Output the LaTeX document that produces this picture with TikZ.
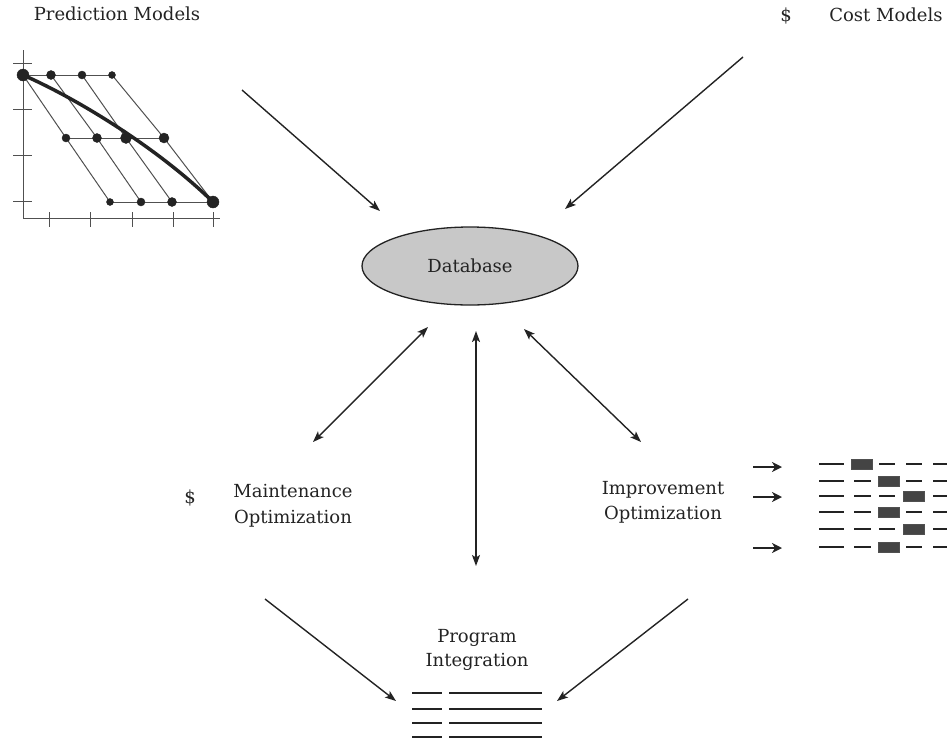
\documentclass[tikz,border=0pt]{standalone}
\usepackage{fontspec}
\setmainfont{DejaVu Serif}
\usetikzlibrary{shapes.geometric,arrows.meta}
\definecolor{dbfill}{RGB}{200,200,200}
\definecolor{ink}{RGB}{35,35,35}
\definecolor{gridc}{RGB}{80,80,80}
\begin{document}
\begin{tikzpicture}[x=1pt,y=-1pt,
  lbl/.style={font=\fontsize{18}{25}\selectfont, inner sep=0pt, anchor=base, text=ink},
  conn/.style={draw=ink, line width=1.4pt, -{Stealth[length=11pt,width=8pt,inset=2.5pt]}},
  dconn/.style={draw=ink, line width=1.4pt, {Stealth[length=11pt,width=8pt,inset=2.5pt]}-{Stealth[length=11pt,width=8pt,inset=2.5pt]}},
  gline/.style={draw=gridc, line width=1pt},
  dotc/.style={fill=ink, draw=ink},
  bar/.style={draw=ink, line width=2.2pt},
  blk/.style={fill=ink!85, draw=gridc, line width=0.6pt},
  pline/.style={draw=ink, line width=2pt}]
\useasboundingbox (0,0) rectangle (947,742);

% titles
\node[lbl] (pm) at (117,20) {Prediction Models};
\node[lbl] (cd) at (786,21) {\$};
\node[lbl] (cm) at (886,21) {Cost Models};

% chart axes
\draw[gline] (23,50) -- (23,218) -- (220,218);
\foreach \yy in {63,109,155,201} \draw[gline] (13,\yy) -- (32,\yy);
\foreach \xx in {49,90,132,173,213} \draw[gline] (\xx,212) -- (\xx,227);
% chart grid
\draw[gline] (23,75) -- (112,75);
\draw[gline] (66,138) -- (164,138);
\draw[gline] (110,202) -- (213,202);
\draw[gline] (23,75) -- (66,138) -- (110,202);
\draw[gline] (51,75) -- (97,138) -- (141,202);
\draw[gline] (82,75) -- (126,138) -- (172,202);
\draw[gline] (112,75) -- (164,138) -- (213,202);
\draw[draw=ink, line width=3.5pt] (23,75) .. controls (80,100) and (160,150) .. (213,202);
\foreach \px/\py/\r in {23/75/6, 51/75/4.5, 82/75/4, 112/75/3.5,
  66/138/4, 97/138/4.5, 126/138/5.5, 164/138/5,
  110/202/3.5, 141/202/4, 172/202/4.5, 213/202/6}
  \fill[dotc] (\px,\py) circle (\r);

% database
\node[ellipse, draw=ink, line width=1.3pt, fill=dbfill, minimum width=216pt, minimum height=78pt, inner sep=0pt, font=\fontsize{18}{25}\selectfont, text=ink] (db) at (470,266) {Database};

% labels
\node[lbl] (ds) at (190,503) {\$};
\node[lbl] (mo1) at (293,497) {Maintenance};
\node[lbl] (mo2) at (293,523) {Optimization};
\node[lbl] (io1) at (663,494) {Improvement};
\node[lbl] (io2) at (663,519) {Optimization};
\node[lbl] (pi1) at (477,642) {Program};
\node[lbl] (pi2) at (477,666) {Integration};

% connector coordinates
\coordinate (a1) at (242,90);  \coordinate (a2) at (380,211);
\coordinate (b1) at (743,57);  \coordinate (b2) at (565,209);
\coordinate (c1) at (428,327); \coordinate (c2) at (313,442);
\coordinate (d1) at (476,331); \coordinate (d2) at (476,566);
\coordinate (e1) at (524,329); \coordinate (e2) at (641,442);
\coordinate (f1) at (265,599); \coordinate (f2) at (396,701);
\coordinate (g1) at (688,599); \coordinate (g2) at (557,701);
\draw[conn] (a1) -- (a2);
\draw[conn] (b1) -- (b2);
\draw[dconn] (c1) -- (c2);
\draw[dconn] (d1) -- (d2);
\draw[dconn] (e1) -- (e2);
\draw[conn] (f1) -- (f2);
\draw[conn] (g1) -- (g2);

% small arrows
\foreach \yy/\nm in {467/r1, 497/r2, 548/r3} {
  \coordinate (\nm a) at (753,\yy); \coordinate (\nm b) at (782,\yy);
  \draw[draw=ink, line width=2pt, -{Stealth[length=10pt,width=10pt,inset=3pt]}] (\nm a) -- (\nm b);
}

% schedule chart
\foreach \yy/\bx in {464/2, 481/3, 496/4, 512/3, 529/4, 547/3} {
  \draw[bar] (819,\yy) -- (844,\yy);
  \ifnum\bx=2 \else \draw[bar] (854,\yy) -- (871,\yy); \fi
  \ifnum\bx=3 \else \draw[bar] (879,\yy) -- (895,\yy); \fi
  \ifnum\bx=4 \else \draw[bar] (906,\yy) -- (922,\yy); \fi
  \draw[bar] (933,\yy) -- (947,\yy);
  \ifnum\bx=2 \filldraw[blk] (851,\yy-5) rectangle (872,\yy+5); \fi
  \ifnum\bx=3 \filldraw[blk] (878,\yy-5) rectangle (899,\yy+5); \fi
  \ifnum\bx=4 \filldraw[blk] (903,\yy-5) rectangle (924,\yy+5); \fi
}

% program lines
\foreach \yy in {693,709,723,737} {
  \draw[pline] (412,\yy) -- (442,\yy);
  \draw[pline] (449,\yy) -- (542,\yy);
}
\end{tikzpicture}
\end{document}
